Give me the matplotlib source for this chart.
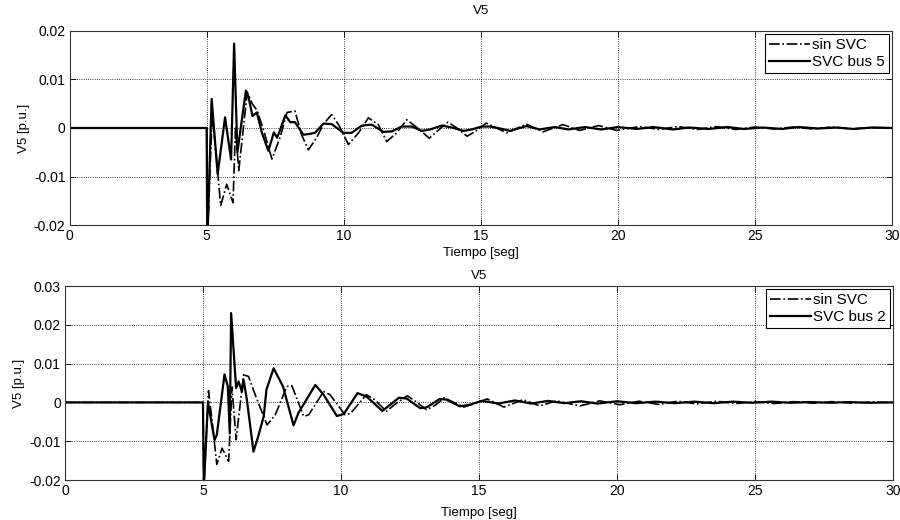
import matplotlib
matplotlib.use("Agg")
import matplotlib.pyplot as plt

plt.rcParams['font.family'] = ['Liberation Sans', 'DejaVu Sans']
plt.rcParams['axes.unicode_minus'] = False

# --- datos ---
# V5, caso SVC en bus 5 (panel superior)
t_sup_svc = [0, 5.0, 5.02, 5.18, 5.40, 5.67, 5.89, 6.0, 6.12, 6.43, 6.52, 6.67, 6.83, 7.01, 7.25,
             7.45, 7.57, 7.87, 8.05, 8.22, 8.53, 8.77, 8.95, 9.26, 9.56, 9.99, 10.29, 10.66, 11.02,
             11.45, 11.75, 12.12, 12.48, 12.85, 13.15, 13.58, 13.94, 14.37, 14.67, 15.03, 15.34,
             15.7, 16.07, 16.66, 17.15, 17.7, 18.2, 18.8, 19.4, 20.0, 20.7, 21.3, 22.0, 22.6, 23.3,
             24.0, 24.6, 25.3, 26.0, 26.6, 27.3, 28.0, 28.6, 29.3, 30]
v_sup_svc = [0, 0, -0.024, 0.006, -0.0095, 0.0022, -0.0065, 0.0174, -0.005, 0.0077, 0.0065,
             0.0025, 0.0032, -0.0009, -0.0047, -0.0009, -0.002, 0.0026, 0.0012, 0.0012, -0.0014,
             -0.0012, -0.001, 0.0009, 0.0008, -0.001, -0.001, 0.0005, 0.0007, -0.0008, -0.0007,
             0.0003, 0.0003, -0.0006, -0.0003, 0.0005, 0.0001, -0.0006, -0.0003, 0.0003, 0.0003,
             -0.0001, -0.0006, 0.0004, -0.0003, 0.0002, -0.0003, 0.0002, -0.0003, 0.0002, -0.0002,
             0.0002, -0.0003, 0.0001, -0.0002, 0.0002, -0.0002, 0.0001, -0.0002, 0.0002, -0.0001,
             0.0001, -0.0002, 0.0001, 0]

# V5 sin SVC (panel superior)
t_sup_sin = [0, 5.0, 5.02, 5.2, 5.35, 5.51, 5.73, 5.96, 6.05, 6.17, 6.48, 6.66, 6.84, 7.08, 7.38,
             7.68, 7.93, 8.22, 8.46, 8.71, 9.01, 9.26, 9.56, 9.81, 10.17, 10.54, 10.9, 11.26, 11.57,
             11.93, 12.3, 12.67, 13.12, 13.4, 13.8, 14.13, 14.5, 14.8, 15.2, 15.95, 16.66, 17.27,
             18.0, 18.6, 19.3, 19.96, 20.8, 21.5, 22.2, 22.9, 23.6, 24.3, 25.0, 25.7, 26.4, 27.1,
             27.8, 28.5, 29.2, 30]
v_sup_sin = [0, 0, -0.024, 0.003, -0.006, -0.016, -0.0116, -0.0154, 0.0, -0.0088, 0.0074, 0.005,
             0.0036, -0.0005, -0.0064, -0.0019, 0.0032, 0.0035, -0.0014, -0.0045, -0.002, 0.0008,
             0.0028, 0.0007, -0.0034, -0.001, 0.0021, 0.0007, -0.0028, -0.001, 0.0017, 0.0001,
             -0.0021, -0.0007, 0.0012, 0.0, -0.0017, -0.0007, 0.001, -0.001, 0.0008, -0.0008,
             0.0007, -0.0005, 0.0005, -0.0005, 0.0003, -0.0003, 0.0003, -0.0003, 0.0003, -0.0003,
             0.0002, -0.0002, 0.0002, -0.0002, 0.0002, -0.0002, 0.0001, 0]

# V5, caso SVC en bus 2 (panel inferior)
t_inf_svc = [0, 5.0, 5.03, 5.18, 5.42, 5.5, 5.78, 5.9, 5.97, 6.02, 6.2, 6.29, 6.41, 6.47, 6.59,
             6.83, 7.0, 7.2, 7.3, 7.56, 7.9, 8.28, 8.46, 9.07, 9.37, 9.85, 10.1, 10.6, 10.93, 11.5,
             12.1, 12.38, 12.87, 13.1, 13.58, 13.83, 14.3, 14.67, 15.1, 15.7, 16.3, 16.9, 17.5,
             18.1, 18.7, 19.3, 20.0, 20.7, 21.4, 22.1, 22.8, 23.5, 24.2, 24.9, 25.6, 26.3, 27.0,
             27.7, 28.4, 29.1, 30]
v_inf_svc = [0, 0, -0.022, 0.0, -0.0097, -0.0084, 0.0072, 0.0041, -0.008, 0.023, 0.0037, 0.0054,
             0.0028, 0.0059, 0.0007, -0.0127, -0.0088, -0.0036, 0.0033, 0.0088, 0.0041, -0.0059,
             -0.0027, 0.0045, 0.002, -0.0035, -0.003, 0.0024, 0.0015, -0.0022, 0.0012, 0.001,
             -0.0015, -0.0013, 0.0009, 0.0007, -0.001, -0.0006, 0.0004, -0.0003, 0.0005, -0.0003,
             0.0004, -0.0002, 0.0003, -0.0003, 0.0003, -0.0002, 0.0002, -0.0002, 0.0002, -0.0002,
             0.0002, -0.0001, 0.0002, -0.0001, 0.0001, -0.0001, 0.0001, -0.0001, 0]

# V5 sin SVC (panel inferior)
t_inf_sin = [0, 5.0, 5.03, 5.2, 5.35, 5.5, 5.69, 5.93, 6.05, 6.2, 6.47, 6.65, 6.89, 7.32, 7.62,
             8.04, 8.22, 8.65, 8.83, 9.37, 9.6, 10.15, 10.35, 10.92, 11.2, 11.65, 11.95, 12.4, 12.7,
             13.1, 13.4, 13.75, 14.0, 14.45, 14.8, 15.3, 15.9, 16.6, 17.2, 17.8, 18.66, 19.38, 20.1,
             20.8, 21.5, 22.2, 22.9, 23.6, 24.3, 25.0, 25.7, 26.4, 27.1, 27.8, 28.5, 29.2, 30]
v_inf_sin = [0, 0, -0.022, 0.003, -0.006, -0.016, -0.0118, -0.0152, 0.004, -0.0096, 0.0071,
             0.0067, 0.002, -0.0058, -0.0032, 0.0041, 0.0043, -0.0036, -0.0032, 0.0028, 0.002,
             -0.0032, -0.0028, 0.002, 0.0008, -0.0023, -0.0005, 0.0017, 0.0003, -0.0019, -0.0008,
             0.0012, 0.0003, -0.0012, -0.0004, 0.0009, -0.0012, 0.0007, -0.0009, 0.0004, -0.0009,
             0.0004, -0.0006, 0.0003, -0.0005, 0.0003, -0.0004, 0.0003, -0.0003, 0.0002, -0.0003,
             0.0002, -0.0002, 0.0002, -0.0002, 0.0001, 0]

xticks = [0, 5, 10, 15, 20, 25, 30]
yticks_sup = [-0.02, -0.01, 0, 0.01, 0.02]
ylabels_sup = ['-0.02', '-0.01', '0', '0.01', '0.02']
yticks_inf = [-0.02, -0.01, 0, 0.01, 0.02, 0.03]
ylabels_inf = ['-0.02', '-0.01', '0', '0.01', '0.02', '0.03']

fig = plt.figure(figsize=(9, 5.2), dpi=100)
ax1 = fig.add_axes([0.0774, 0.5673, 0.9136, 0.3731])
ax2 = fig.add_axes([0.0722, 0.0769, 0.9200, 0.3731])

def estilo(ax, yt, yl, ylim, titulo_pad, xpad):
    ax.set_xlim(0, 30)
    ax.set_ylim(*ylim)
    ax.set_xticks(xticks)
    ax.set_xticklabels([str(x) for x in xticks])
    ax.set_yticks(yt)
    ax.set_yticklabels(yl)
    ax.tick_params(direction='in', top=True, right=True, length=4, width=0.6,
                   labelsize=10, pad=3)
    ax.grid(True, linestyle=':', color='black', linewidth=0.6)
    for s in ax.spines.values():
        s.set_color('#333333')
        s.set_linewidth(0.8)
    ax.set_title('V5', fontsize=9.5, pad=titulo_pad)
    ax.set_xlabel('Tiempo [seg]', fontsize=9.5, labelpad=xpad)
    ax.set_ylabel('V5 [p.u.]', fontsize=9.5, labelpad=3)

ax1.plot(t_sup_sin, v_sup_sin, color='black', linestyle='-.', linewidth=1.2, label='sin SVC')
ax1.plot(t_sup_svc, v_sup_svc, color='black', linestyle='-', linewidth=1.6, label='SVC bus 5')
estilo(ax1, yticks_sup, ylabels_sup, (-0.02, 0.02), 12, 3)

ax2.plot(t_inf_sin, v_inf_sin, color='black', linestyle='-.', linewidth=1.2, label='sin SVC')
ax2.plot(t_inf_svc, v_inf_svc, color='black', linestyle='-', linewidth=1.6, label='SVC bus 2')
estilo(ax2, yticks_inf, ylabels_inf, (-0.02, 0.03), 5, 6)

for ax in (ax1, ax2):
    leg = ax.legend(loc='upper right', fontsize=11, fancybox=False, framealpha=1,
                    edgecolor='black', borderaxespad=0.2, handlelength=2.7,
                    handletextpad=0.15, borderpad=0.25, labelspacing=0.2)
    leg.get_frame().set_linewidth(0.8)

fig.savefig('out.png', dpi=100)
